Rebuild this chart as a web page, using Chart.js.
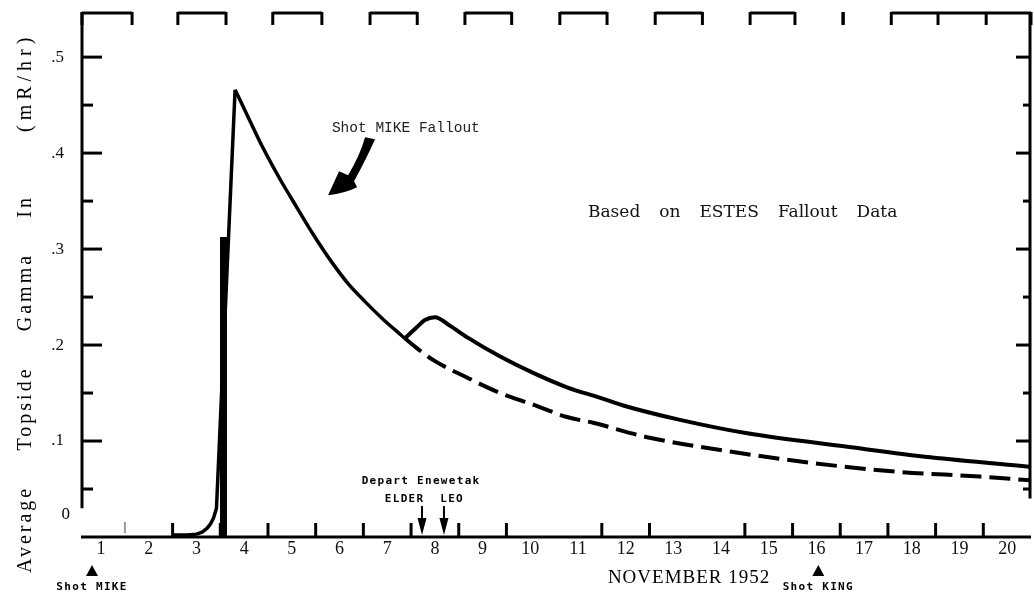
<!DOCTYPE html>
<html>
<head>
<meta charset="utf-8">
<script src="https://cdn.jsdelivr.net/npm/chart.js@4.4.0/dist/chart.umd.min.js"></script>
<style>
  html, body { margin: 0; padding: 0; background: #fff; }
</style>
</head>
<body>
<canvas id="gammaChart" width="1034" height="599"></canvas>
<script>
// x = day of November 1952 (x = 1 is the start of Nov 1)
const dayLabels = ['1', '2', '3', '4', '5', '6', '7', '8', '9', '10',
                   '11', '12', '13', '14', '15', '16', '17', '18', '19', '20'];
const yTickValues = [0, 0.1, 0.2, 0.3, 0.4, 0.5];
const yTickLabels = ['0', '.1', '.2', '.3', '.4', '.5'];

// small readings before the fallout, then the rise to the peak
const onsetDays  = [3.0, 3.3, 3.5, 3.62, 3.72, 3.8, 3.86, 3.92, 4.31];
const onsetGamma = [0.002, 0.002, 0.003, 0.005, 0.009, 0.014, 0.02, 0.03, 0.466];

// thick bar at arrival of the fallout
const spikeDays  = [4.067, 4.067];
const spikeGamma = [0, 0.3125];

// decay from the peak down to the dip
const decayDays  = [4.31, 4.56, 4.9, 5.25, 5.61, 5.94, 6.3, 6.68, 7.04, 7.39, 7.66, 7.87];
const decayGamma = [0.466, 0.44, 0.405, 0.373, 0.343, 0.316, 0.289, 0.264, 0.245, 0.228, 0.216, 0.207];

// second rise and decay after the dip (solid)
const bumpDays  = [7.87, 8.13, 8.29, 8.5, 8.82, 9.18, 9.87, 10.56, 11.27, 11.97, 12.45, 13.64, 15.05, 17.15, 18.89, 21.0];
const bumpGamma = [0.207, 0.219, 0.226, 0.229, 0.22, 0.208, 0.188, 0.171, 0.156, 0.145, 0.137, 0.122, 0.108, 0.094, 0.083, 0.073];

// continued decay without the second rise (dashed)
const baseDays  = [7.87, 8.04, 8.46, 9.18, 9.87, 10.56, 11.27, 11.82, 12.95, 14.69, 16.43, 18.19, 19.93, 21.0];
const baseGamma = [0.207, 0.2, 0.1845, 0.166, 0.15, 0.138, 0.125, 0.119, 0.104, 0.089, 0.077, 0.068, 0.063, 0.059];

// events
const departDays = [8.23, 8.69];          // ELDER, LEO
const shotDays   = [1.31, 16.54];
const shotNames  = ['Shot MIKE', 'Shot KING'];

// frame decoration (scanned axis ticks)
const bottomTickDays = [3, 4, 5, 6, 7, 8, 9, 10, 12, 13, 15, 16, 17, 18, 19, 20];
const topSegments = [[1.1, 2.15], [3.11, 4.12], [5.1, 6.13], [7.14, 8.13], [9.13, 10.11],
                     [11.12, 12.11], [13.12, 14.11], [15.11, 16.05], [17.06, 17.06], [18.07, 21]];
const topExtraTicks = [19.05, 20.06];
const yMajor = [0.1, 0.2, 0.3, 0.4, 0.5];
const yMinor = [0.05, 0.15, 0.25, 0.35, 0.45];

const pts = (xs, ys) => xs.map((v, i) => ({ x: v, y: ys[i] }));

function line(ctx, x1, y1, x2, y2) {
  ctx.beginPath();
  ctx.moveTo(x1, y1);
  ctx.lineTo(x2, y2);
  ctx.stroke();
}

const framePlugin = {
  id: 'frame',
  afterDraw(chart) {
    const { ctx, chartArea: a, scales: { x, y } } = chart;
    ctx.save();
    ctx.strokeStyle = '#000';
    ctx.fillStyle = '#000';
    ctx.lineCap = 'butt';
    ctx.lineWidth = 3;

    // axis lines
    line(ctx, a.left - 1, a.bottom, a.right, a.bottom);
    line(ctx, a.left, a.top, a.left, y.getPixelForValue(0.03));
    line(ctx, a.right - 1, a.top, a.right - 1, y.getPixelForValue(0.04));

    // left and right ticks
    yMajor.forEach(v => {
      const py = y.getPixelForValue(v);
      line(ctx, a.left, py, a.left + 20, py);
      line(ctx, a.right, py, a.right - 15, py);
    });
    yMinor.forEach(v => {
      const py = y.getPixelForValue(v);
      line(ctx, a.left, py, a.left + 11, py);
      line(ctx, a.right, py, a.right - 8, py);
    });

    // bottom ticks at day boundaries
    bottomTickDays.forEach(d => {
      const px = x.getPixelForValue(d);
      line(ctx, px, a.bottom, px, a.bottom - 14);
    });
    ctx.strokeStyle = '#999';
    ctx.lineWidth = 2;
    line(ctx, x.getPixelForValue(2), a.bottom - 4, x.getPixelForValue(2), a.bottom - 15);
    ctx.strokeStyle = '#000';
    ctx.lineWidth = 3;

    // broken top border
    const ty = a.top + 1;
    topSegments.forEach(([s, e]) => {
      const p1 = x.getPixelForValue(s), p2 = x.getPixelForValue(e);
      if (p2 > p1) line(ctx, p1, ty, p2, ty);
      line(ctx, p1, ty - 1, p1, ty + 12);
      line(ctx, p2, ty - 1, p2, ty + 12);
    });
    topExtraTicks.forEach(d => {
      const px = x.getPixelForValue(d);
      line(ctx, px, ty, px, ty + 12);
    });

    // "0" tick label sits above the axis in the original
    ctx.font = '17px "Liberation Serif"';
    ctx.textAlign = 'right';
    ctx.textBaseline = 'middle';
    ctx.fillText(yTickLabels[0], a.left - 12, y.getPixelForValue(0) - 22);

    // y axis title, typewriter-spaced words from bottom (573) to top (195)
    ctx.save();
    ctx.font = '20px "Liberation Serif"';
    ctx.textAlign = 'left';
    ctx.translate(26, 0);
    ctx.rotate(-Math.PI / 2);
    ctx.letterSpacing = '3px';
    const words = ['Average', 'Topside', 'Gamma', 'In'];
    const widths = words.map(w => ctx.measureText(w).width);
    const gap = (378 - widths.reduce((s, w) => s + w, 0)) / (words.length - 1);
    let pos = -573;
    words.forEach((w, i) => {
      ctx.fillText(w, pos, 0);
      pos += widths[i] + gap;
    });
    ctx.letterSpacing = '5px';
    ctx.fillText('(mR/hr)', -132, 0);
    ctx.restore();

    // x axis title
    ctx.font = '19px "Liberation Serif"';
    ctx.letterSpacing = '1px';
    ctx.textAlign = 'center';
    ctx.fillText('NOVEMBER 1952', x.getPixelForValue(13.83), a.bottom + 41);
    ctx.letterSpacing = '0px';

    // shot markers
    ctx.font = 'bold 11px "DejaVu Sans Mono"';
    ctx.letterSpacing = '1.3px';
    shotDays.forEach((d, i) => {
      const px = x.getPixelForValue(d);
      ctx.beginPath();
      ctx.moveTo(px, a.bottom + 28);
      ctx.lineTo(px - 6, a.bottom + 39);
      ctx.lineTo(px + 6, a.bottom + 39);
      ctx.closePath();
      ctx.fill();
      ctx.fillText(shotNames[i], px, a.bottom + 50);
    });

    // departure arrows
    ctx.fillText('Depart Enewetak', x.getPixelForValue(8.21), a.bottom - 56);
    ctx.fillText('ELDER  LEO', x.getPixelForValue(8.28), a.bottom - 38);
    ctx.letterSpacing = '0px';
    ctx.lineWidth = 2;
    departDays.forEach(d => {
      const px = x.getPixelForValue(d);
      line(ctx, px, a.bottom - 31, px, a.bottom - 15);
      ctx.beginPath();
      ctx.moveTo(px - 4.5, a.bottom - 19);
      ctx.lineTo(px + 4.5, a.bottom - 19);
      ctx.lineTo(px, a.bottom - 2);
      ctx.closePath();
      ctx.fill();
    });

    // "Shot MIKE Fallout" with curved arrow
    ctx.font = '14.5px "Liberation Mono"';
    ctx.textAlign = 'left';
    ctx.fillStyle = '#222';
    ctx.fillText('Shot MIKE Fallout', x.getPixelForValue(6.34), y.getPixelForValue(0.426));
    ctx.fillStyle = '#000';
    const tx = x.getPixelForValue(6.26), tyy = y.getPixelForValue(0.356);
    ctx.beginPath();
    ctx.moveTo(tx + 37, tyy - 58);
    ctx.quadraticCurveTo(tx + 32, tyy - 40, tx + 20, tyy - 20);
    ctx.lineTo(tx + 11, tyy - 24);
    ctx.lineTo(tx, tyy);
    ctx.quadraticCurveTo(tx + 17, tyy - 2, tx + 29, tyy - 8);
    ctx.lineTo(tx + 26, tyy - 14);
    ctx.quadraticCurveTo(tx + 38, tyy - 36, tx + 47, tyy - 56);
    ctx.closePath();
    ctx.fill();

    // note on data source
    ctx.font = '17px "DejaVu Serif"';
    ctx.fillStyle = '#111';
    let wx = x.getPixelForValue(11.71);
    const wy = y.getPixelForValue(0.3385);
    ['Based', 'on', 'ESTES', 'Fallout', 'Data'].forEach(w => {
      ctx.fillText(w, wx, wy);
      wx += ctx.measureText(w).width + 19;
    });
    ctx.restore();
  }
};

const lineStyle = { borderColor: '#000', pointRadius: 0, fill: false, borderJoinStyle: 'round' };

const noPad = s => { s.paddingTop = 0; s.paddingBottom = 0; s.paddingLeft = 0; s.paddingRight = 0; };

new Chart(document.getElementById('gammaChart'), {
  type: 'line',
  data: {
    datasets: [
      { ...lineStyle, data: pts(onsetDays, onsetGamma), borderWidth: 3.5, tension: 0 },
      { ...lineStyle, data: pts(spikeDays, spikeGamma), borderWidth: 7, borderCapStyle: 'butt' },
      { ...lineStyle, data: pts(decayDays, decayGamma), borderWidth: 3.5, cubicInterpolationMode: 'monotone' },
      { ...lineStyle, data: pts(bumpDays, bumpGamma), borderWidth: 4, cubicInterpolationMode: 'monotone' },
      { ...lineStyle, data: pts(baseDays, baseGamma), borderWidth: 4, borderDash: [21, 8], cubicInterpolationMode: 'monotone' }
    ]
  },
  options: {
    responsive: false,
    animation: false,
    layout: { padding: { top: 12, right: 3, left: 0, bottom: 0 } },
    plugins: { legend: { display: false }, tooltip: { enabled: false } },
    scales: {
      x: {
        type: 'linear',
        min: 1.1,
        max: 21,
        afterBuildTicks: s => { s.ticks = dayLabels.map(d => ({ value: Number(d) + 0.5 })); },
        afterFit: s => { s.height = 62; noPad(s); },
        grid: { display: false },
        border: { display: false },
        ticks: {
          autoSkip: false,
          maxRotation: 0,
          padding: -7,
          color: '#111',
          font: { family: 'Liberation Serif', size: 18 },
          callback: (v, i) => dayLabels[i]
        }
      },
      y: {
        min: 0,
        max: 0.547,
        afterBuildTicks: s => { s.ticks = yTickValues.map(v => ({ value: v })); },
        afterFit: s => { s.width = 82; noPad(s); },
        grid: { display: false },
        border: { display: false },
        ticks: {
          padding: 10,
          color: '#111',
          font: { family: 'Liberation Serif', size: 17 },
          callback: (v, i) => (i === 0 ? '' : yTickLabels[i])
        }
      }
    }
  },
  plugins: [framePlugin]
});
</script>
</body>
</html>
